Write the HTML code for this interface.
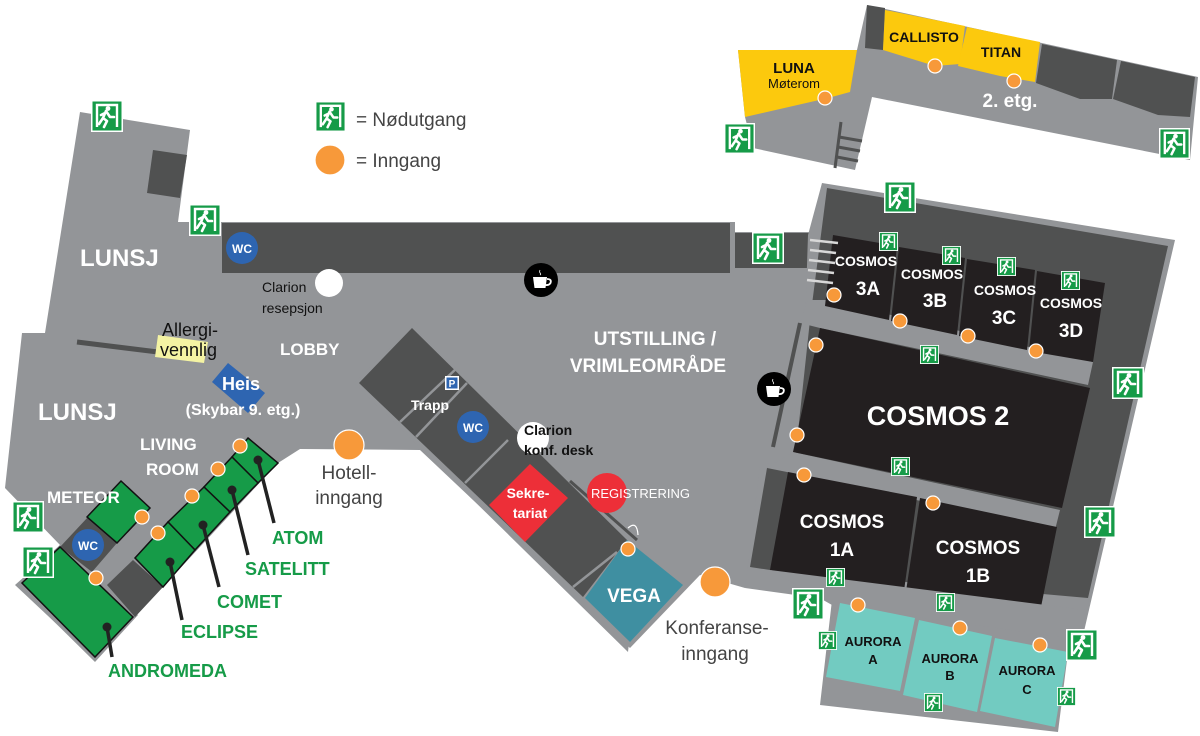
<!DOCTYPE html>
<html><head><meta charset="utf-8"><style>
html,body{margin:0;padding:0;background:#fff;}
svg{display:block;font-family:"Liberation Sans",Arial,sans-serif;}
.w{fill:#fff;font-weight:bold;}
.g{fill:#169b48;font-weight:bold;font-size:18px;}
.k{fill:#111;}
</style></head><body>
<svg width="1200" height="736" viewBox="0 0 1200 736" xmlns="http://www.w3.org/2000/svg">
<defs>
<symbol id="ex" viewBox="0 0 32 32">
<rect x="0" y="0" width="32" height="32" fill="#fff"/>
<rect x="1.5" y="1.5" width="29" height="29" fill="#169b48"/>
<path d="M6 27 V5 H26 V27" fill="none" stroke="#fff" stroke-width="2.4"/>
<circle cx="17" cy="8.5" r="2.4" fill="#fff"/>
<path d="M15 11 L12 18 L16 21 L13 27 M15 11 L19 17 L23 17 M14 13 L10 15 M12 18 L8 24" fill="none" stroke="#fff" stroke-width="2.6" stroke-linecap="round" stroke-linejoin="round"/>
</symbol>
<symbol id="cf" viewBox="0 0 34 34">
<circle cx="17" cy="17" r="17" fill="#000"/>
<path d="M9 14 H23 L21.5 25 H10.5 Z" fill="#fff"/>
<path d="M23 16 Q28 16 26.5 20 Q25 22.5 21.5 22" fill="none" stroke="#fff" stroke-width="1.8"/>
<path d="M16 7 Q15 9 16.5 10.5 Q17 11.5 16 12" fill="none" stroke="#fff" stroke-width="0.8"/>
</symbol>
</defs>

<!-- 2nd floor -->
<polygon points="867,5 1198,77 1190,160 872,97 855,170 753,148 745,117 738,50 857,50" fill="#939598"/>
<polygon points="738,50 857,50 850,92 828,98 745,117" fill="#fcc90d"/>
<polygon points="867,5 885,8 883,50 865,48" fill="#505151"/>
<polygon points="885,10 965,26 960,64 935,66 883,50" fill="#fcc90d"/>
<polygon points="967,27 1040,42 1035,82 1000,76 958,66" fill="#fcc90d"/>
<polygon points="1042,44 1117,60 1112,99 1080,99 1036,83" fill="#505151"/>
<polygon points="1121,61 1195,77 1190,117 1158,115 1113,99" fill="#505151"/>
<g stroke="#505151" stroke-width="3"><line x1="841" y1="122" x2="835" y2="168"/><line x1="839" y1="137" x2="862" y2="141"/><line x1="838" y1="147" x2="860" y2="151"/><line x1="837" y1="157" x2="858" y2="161"/></g>
<text x="794" y="73" font-size="15" class="k" font-weight="bold" text-anchor="middle">LUNA</text>
<text x="794" y="88" font-size="13" class="k" text-anchor="middle">Møterom</text>
<text x="924" y="42" font-size="14" class="k" font-weight="bold" text-anchor="middle">CALLISTO</text>
<text x="1001" y="57" font-size="14" class="k" font-weight="bold" text-anchor="middle">TITAN</text>
<text x="1010" y="107" font-size="19" class="w" text-anchor="middle">2. etg.</text>

<!-- main floor -->
<polygon points="80,112 190,130 178,222 735,222 735,232 822,232 805,400 790,470 745,588 700,575 630,648 420,450 300,449 278,463 95,660 15,585 60,545 5,488 22,333 45,333" fill="#939598"/>
<rect x="222" y="223" width="508" height="50" fill="#505151"/>
<rect x="735" y="233" width="76" height="35" fill="#505151"/>
<polygon points="153,150 187,155 180,198 147,193" fill="#505151"/>
<line x1="77" y1="342" x2="158" y2="352" stroke="#505151" stroke-width="5"/>
<polygon points="158,335 208,342 204,363 155,357" fill="#f4f3a3"/>
<polygon points="228,363 265,393 248,413 212,382" fill="#2e65b1"/>

<!-- diagonal block -->
<polygon points="412,326 640,545 628,652 354,383" fill="#939598"/>
<polygon points="412,328 627,540 583,597 359,383" fill="#505151"/>
<g stroke="#939598" stroke-width="2.5"><line x1="400" y1="422" x2="458" y2="367"/><line x1="416" y1="437" x2="467" y2="383"/><line x1="465" y1="483" x2="508" y2="440"/><line x1="573" y1="587" x2="617" y2="552"/></g>
<polygon points="489,505 530,464 568,498 525,542" fill="#ed2f38"/>
<polygon points="585,598 627,540 683,585 630,642" fill="#3f8fa1"/>
<line x1="570" y1="481" x2="637" y2="540" stroke="#505151" stroke-width="3"/>
<path d="M628 528 Q637 520 638 535" fill="none" stroke="#fff" stroke-width="1.2"/>
<rect x="445" y="376" width="14" height="14" fill="#fff"/><rect x="446.5" y="377.5" width="11" height="11" fill="#2e65b1"/>
<text x="452" y="387" font-size="10" class="w" text-anchor="middle">P</text>
<text x="430" y="410" font-size="14" class="w" text-anchor="middle">Trapp</text>
<circle cx="473" cy="427" r="16" fill="#2e65b1"/><text x="473" y="432" font-size="12" class="w" text-anchor="middle">WC</text>
<circle cx="533" cy="438" r="16" fill="#fff"/>
<text x="524" y="435" font-size="14" class="k" font-weight="bold">Clarion</text>
<text x="524" y="455" font-size="14" class="k" font-weight="bold">konf. desk</text>
<text x="528" y="498" font-size="14" class="w" text-anchor="middle">Sekre-</text>
<text x="530" y="518" font-size="14" class="w" text-anchor="middle">tariat</text>
<circle cx="607" cy="493" r="20" fill="#ed2f38"/>
<text x="591" y="498" font-size="13" fill="#fff">REGISTRERING</text>
<text x="634" y="602" font-size="19" class="w" text-anchor="middle">VEGA</text>

<!-- green rooms -->
<polygon points="20,588 60,545 138,615 95,662" fill="#939598"/>
<polygon points="60,547 88,517 117,543 92,572" fill="#505151"/>
<polygon points="133,560 163,587 135,617 107,585" fill="#505151"/>
<g fill="#169b48" stroke="#111" stroke-width="1.5">
<polygon points="248,438 278,463 258,483 232,457"/>
<polygon points="232,457 258,483 230,512 204,487"/>
<polygon points="204,487 230,512 195,550 168,522"/>
<polygon points="168,522 195,550 163,587 135,558"/>
<polygon points="87,517 121,481 150,508 117,543"/>
<polygon points="22,583 60,547 133,617 95,657"/>
</g>
<circle cx="88" cy="545" r="16" fill="#2e65b1"/><text x="88" y="550" font-size="12" class="w" text-anchor="middle">WC</text>
<g stroke="#222" stroke-width="3.5"><line x1="258" y1="460" x2="274" y2="523"/><line x1="232" y1="490" x2="248" y2="555"/><line x1="203" y1="525" x2="219" y2="587"/><line x1="170" y1="562" x2="182" y2="620"/><line x1="107" y1="627" x2="112" y2="657"/></g>
<g fill="#222"><circle cx="258" cy="460" r="4.5"/><circle cx="232" cy="490" r="4.5"/><circle cx="203" cy="525" r="4.5"/><circle cx="170" cy="562" r="4.5"/><circle cx="107" cy="627" r="4.5"/></g>
<text x="272" y="544" class="g">ATOM</text>
<text x="245" y="575" class="g">SATELITT</text>
<text x="217" y="608" class="g">COMET</text>
<text x="181" y="638" class="g">ECLIPSE</text>
<text x="108" y="677" class="g">ANDROMEDA</text>

<!-- cosmos building -->
<polygon points="822,183 1175,240 1082,640 1068,652 1058,732 820,705 832,600 745,588 760,465 790,460 805,325 808,235" fill="#939598"/>
<polygon points="827,188 1168,246 1088,598 770,570 750,567 767,468 795,460 810,320" fill="#505151"/>
<polygon points="808,300 827,300 1093,362 1088,385 820,328 800,323" fill="#939598"/>
<polygon points="793,452 1060,510 1055,530 787,472 767,468" fill="#939598"/>
<g fill="#231f20">
<polygon points="833,235 897,246 889,320 825,306"/>
<polygon points="899,247 965,258 957,335 891,321"/>
<polygon points="967,259 1035,270 1027,350 959,336"/>
<polygon points="1037,271 1105,283 1093,362 1029,351"/>
<polygon points="820,328 1090,388 1062,508 793,452"/>
<polygon points="788,472 917,497 903,598 770,570"/>
<polygon points="920,498 1057,527 1040,612 905,598"/>
</g>
<polygon points="770,570 1085,610 1082,640 832,605" fill="#939598"/>
<g fill="#72cbc1">
<polygon points="840,603 915,618 900,691 826,677"/>
<polygon points="919,620 992,636 977,712 903,695"/>
<polygon points="995,638 1068,652 1055,727 980,711"/>
</g>
<g stroke="#d8d8d8" stroke-width="2.5"><line x1="810" y1="240" x2="838" y2="243"/><line x1="810" y1="250" x2="836" y2="253"/><line x1="809" y1="260" x2="835" y2="263"/><line x1="808" y1="270" x2="834" y2="273"/><line x1="807" y1="280" x2="833" y2="283"/></g>
<line x1="800" y1="323" x2="773" y2="447" stroke="#505151" stroke-width="4"/>
<g font-size="14" class="w" text-anchor="middle">
<text x="866" y="266">COSMOS</text><text x="932" y="279">COSMOS</text><text x="1005" y="295">COSMOS</text><text x="1071" y="308">COSMOS</text>
</g>
<g font-size="19" class="w" text-anchor="middle">
<text x="868" y="295">3A</text><text x="935" y="307">3B</text><text x="1004" y="324">3C</text><text x="1071" y="337">3D</text>
<text x="842" y="528">COSMOS</text><text x="842" y="556">1A</text>
<text x="978" y="554">COSMOS</text><text x="978" y="582">1B</text>
</g>
<text x="938" y="425" font-size="27" class="w" text-anchor="middle">COSMOS 2</text>
<g font-size="13" class="k" font-weight="bold" text-anchor="middle">
<text x="873" y="646">AURORA</text><text x="873" y="664">A</text>
<text x="950" y="663">AURORA</text><text x="950" y="680">B</text>
<text x="1027" y="675">AURORA</text><text x="1027" y="694">C</text>
</g>

<!-- labels -->
<text x="80" y="266" font-size="24" class="w">LUNSJ</text>
<text x="38" y="420" font-size="24" class="w">LUNSJ</text>
<text x="280" y="355" font-size="17" class="w">LOBBY</text>
<text x="140" y="450" font-size="17" class="w">LIVING</text>
<text x="146" y="475" font-size="17" class="w">ROOM</text>
<text x="47" y="503" font-size="17" class="w">METEOR</text>
<text x="655" y="345" font-size="19" class="w" text-anchor="middle">UTSTILLING /</text>
<text x="648" y="372" font-size="19" class="w" text-anchor="middle">VRIMLEOMRÅDE</text>
<text x="241" y="390" font-size="18" class="w" text-anchor="middle">Heis</text>
<text x="243" y="415" font-size="16" class="w" text-anchor="middle">(Skybar 9. etg.)</text>
<circle cx="329" cy="283" r="14" fill="#fff"/>
<text x="262" y="292" font-size="14" class="k">Clarion</text>
<text x="262" y="313" font-size="14" class="k">resepsjon</text>
<text x="162" y="336" font-size="18" class="k">Allergi-</text>
<text x="160" y="356" font-size="18" class="k">vennlig</text>
<circle cx="242" cy="248" r="16" fill="#2e65b1"/><text x="242" y="253" font-size="12" class="w" text-anchor="middle">WC</text>
<text x="349" y="479" font-size="19" fill="#444" text-anchor="middle">Hotell-</text>
<text x="349" y="504" font-size="19" fill="#444" text-anchor="middle">inngang</text>
<text x="717" y="634" font-size="19" fill="#444" text-anchor="middle">Konferanse-</text>
<text x="715" y="660" font-size="19" fill="#444" text-anchor="middle">inngang</text>

<!-- legend -->
<text x="356" y="126" font-size="19" fill="#444">= Nødutgang</text>
<text x="356" y="167" font-size="19" fill="#444">= Inngang</text>

<!-- coffee -->
<use href="#cf" x="524" y="263" width="34" height="34"/>
<use href="#cf" x="757" y="372" width="34" height="34"/>

<!-- orange dots -->
<g fill="#f7993a" stroke="#fff" stroke-width="1.2">
<circle cx="825" cy="98" r="7"/><circle cx="935" cy="66" r="7"/><circle cx="1014" cy="81" r="7"/>
<circle cx="900" cy="321" r="7"/><circle cx="968" cy="336" r="7"/><circle cx="1036" cy="351" r="7"/>
<circle cx="834" cy="295" r="7"/>
<circle cx="816" cy="345" r="7"/><circle cx="797" cy="435" r="7"/><circle cx="804" cy="475" r="7"/>
<circle cx="933" cy="503" r="7"/><circle cx="858" cy="605" r="7"/><circle cx="960" cy="628" r="7"/><circle cx="1040" cy="645" r="7"/>
<circle cx="628" cy="549" r="7"/>
<circle cx="240" cy="446" r="7"/><circle cx="218" cy="469" r="7"/><circle cx="192" cy="496" r="7"/>
<circle cx="142" cy="517" r="7"/><circle cx="158" cy="533" r="7"/><circle cx="96" cy="578" r="7"/>
<circle cx="349" cy="445" r="15"/><circle cx="715" cy="582" r="15"/><circle cx="330" cy="160" r="15"/>
</g>

<!-- exit signs -->
<use href="#ex" x="91" y="100" width="32" height="32"/>
<use href="#ex" x="189" y="204" width="32" height="32"/>
<use href="#ex" x="315" y="101" width="31" height="31"/>
<use href="#ex" x="752" y="232" width="32" height="32"/>
<use href="#ex" x="724" y="123" width="31" height="31"/>
<use href="#ex" x="1159" y="128" width="31" height="31"/>
<use href="#ex" x="884" y="181" width="32" height="32"/>
<use href="#ex" x="879" y="232" width="19" height="19"/>
<use href="#ex" x="942" y="246" width="19" height="19"/>
<use href="#ex" x="997" y="257" width="19" height="19"/>
<use href="#ex" x="1061" y="271" width="19" height="19"/>
<use href="#ex" x="920" y="345" width="19" height="19"/>
<use href="#ex" x="1112" y="367" width="32" height="32"/>
<use href="#ex" x="891" y="457" width="19" height="19"/>
<use href="#ex" x="1084" y="506" width="32" height="32"/>
<use href="#ex" x="826" y="568" width="19" height="19"/>
<use href="#ex" x="792" y="588" width="32" height="32"/>
<use href="#ex" x="936" y="593" width="19" height="19"/>
<use href="#ex" x="818" y="631" width="19" height="19"/>
<use href="#ex" x="1066" y="629" width="32" height="32"/>
<use href="#ex" x="924" y="693" width="19" height="19"/>
<use href="#ex" x="1057" y="687" width="19" height="19"/>
<use href="#ex" x="12" y="501" width="32" height="32"/>
<use href="#ex" x="22" y="546" width="32" height="32"/>
</svg>
</body></html>
